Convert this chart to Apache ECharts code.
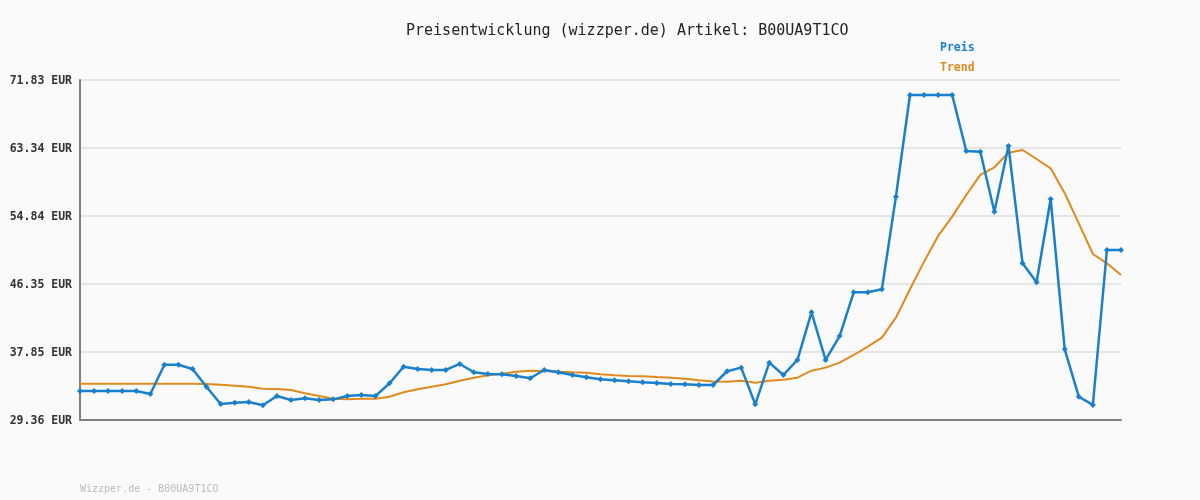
<!DOCTYPE html>
<html>
<head>
<meta charset="utf-8">
<script src="https://cdn.jsdelivr.net/npm/echarts@6/dist/echarts.min.js"></script>
<style>
html,body{margin:0;padding:0;background:#fafafa;}
#c{width:1200px;height:500px;}
</style>
</head>
<body>
<div id="c"></div>
<script>
const titleText = 'Preisentwicklung (wizzper.de) Artikel: B00UA9T1CO';
const footerText = 'Wizzper.de - B00UA9T1CO';
const seriesNames = ['Preis', 'Trend'];
const categories = ['1','2','3','4','5','6','7','8','9','10','11','12','13','14','15','16','17','18','19','20',
'21','22','23','24','25','26','27','28','29','30','31','32','33','34','35','36','37','38','39','40',
'41','42','43','44','45','46','47','48','49','50','51','52','53','54','55','56','57','58','59','60',
'61','62','63','64','65','66','67','68','69','70','71','72','73','74','75'];
const preis = [32.98,32.98,32.98,32.98,32.98,32.61,36.27,36.27,35.73,33.48,
31.36,31.52,31.61,31.20,32.36,31.86,32.07,31.86,31.94,32.36,
32.48,32.36,33.94,36.02,35.73,35.61,35.61,36.36,35.32,35.11,
35.07,34.86,34.57,35.61,35.32,34.98,34.69,34.44,34.32,34.19,
34.07,33.98,33.86,33.82,33.73,33.73,35.45,35.90,31.32,36.52,
34.98,36.86,42.81,36.86,39.85,45.31,45.31,45.68,57.26,69.96,
69.96,69.96,69.96,62.96,62.87,55.38,63.59,48.93,46.56,56.97,
38.19,32.27,31.24,50.60,50.60];
const trend = [33.90,33.90,33.90,33.90,33.90,33.90,33.90,33.90,33.90,33.86,
33.77,33.65,33.52,33.27,33.23,33.11,32.70,32.36,32.02,31.94,
32.02,32.02,32.27,32.82,33.19,33.52,33.82,34.27,34.65,34.95,
35.15,35.40,35.52,35.48,35.40,35.32,35.27,35.07,34.95,34.86,
34.82,34.73,34.65,34.52,34.32,34.17,34.15,34.27,34.02,34.27,
34.40,34.65,35.52,35.90,36.52,37.48,38.52,39.65,42.14,45.69,
49.14,52.35,54.76,57.47,59.97,60.93,62.75,63.09,61.96,60.80,
57.68,53.93,50.10,48.93,47.47];
const tickLabels = ['29.36','37.85','46.35','54.84','63.34','71.83'];
const yMin = 29.36, yMax = 71.83;

const blue = '#1a80cc', orange = '#e08a1e';
const mono = '"DejaVu Sans Mono", monospace';
const chart = echarts.init(document.getElementById('c'));
chart.setOption({
  backgroundColor: '#fafafa',
  animation: false,
  title: [
    {text: titleText, left: 401, top: 19, textStyle: {fontFamily: mono, fontSize: 15, fontWeight: 'normal', color: '#222'}},
    {text: footerText, left: 75, top: 479, textStyle: {fontFamily: mono, fontSize: 10, fontWeight: 'normal', color: '#bbbbbb'}}
  ],
  legend: {
    orient: 'vertical', left: 935, top: 37, itemGap: 8,
    itemWidth: 0, itemHeight: 0, icon: 'none',
    data: [
      {name: seriesNames[0], textStyle: {color: blue}},
      {name: seriesNames[1], textStyle: {color: orange}}
    ],
    textStyle: {fontFamily: mono, fontSize: 11.5, fontWeight: 'bold', padding: [0,0,0,-5]}
  },
  grid: {left: 80, right: 79, top: 80, bottom: 80, containLabel: false},
  xAxis: {
    type: 'category', data: categories, boundaryGap: false,
    axisLine: {show: true, lineStyle: {color: '#7f7f7f', width: 2}},
    axisTick: {show: false}, axisLabel: {show: false}, splitLine: {show: false}
  },
  yAxis: {
    type: 'value', min: yMin, max: yMax, interval: (yMax - yMin) / 5,
    axisLine: {show: true, lineStyle: {color: '#7f7f7f', width: 2}},
    axisTick: {show: false},
    splitLine: {show: true, lineStyle: {color: '#e5e5e5', width: 2}},
    axisLabel: {
      margin: 8, fontFamily: mono, fontSize: 11.5, fontWeight: 'bold', color: '#333',
      verticalAlign: 'top', padding: [-5, 0, 0, 0],
      formatter: function (v) {
        const i = Math.round((v - yMin) / ((yMax - yMin) / 5));
        return tickLabels[i] + ' EUR';
      }
    }
  },
  series: [
    {name: seriesNames[0], type: 'line', data: preis, color: blue,
     symbol: 'diamond', symbolSize: 6, showSymbol: true,
     lineStyle: {width: 2.5, color: blue}, itemStyle: {color: blue}, z: 3},
    {name: seriesNames[1], type: 'line', data: trend, color: orange,
     symbol: 'none', lineStyle: {width: 2, color: orange}, z: 2}
  ]
});
</script>
</body>
</html>
